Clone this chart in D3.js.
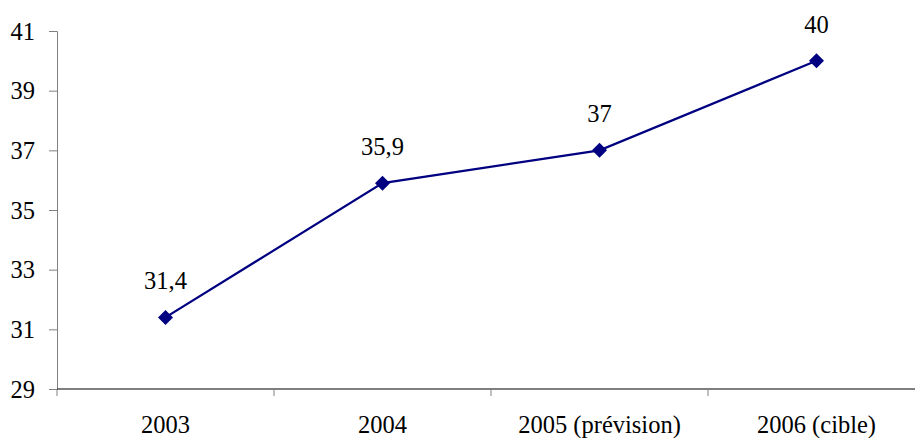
<!DOCTYPE html>
<html><head><meta charset="utf-8">
<script src="https://cdn.jsdelivr.net/npm/d3@7"></script>
<style>body{margin:0;background:#fff}svg{display:block}</style>
</head><body><svg id="c" width="915" height="438"></svg>
<script>
const categories = ["2003", "2004", "2005 (prévision)", "2006 (cible)"];
const values = [31.4, 35.9, 37, 40];
const valueLabels = ["31,4", "35,9", "37", "40"];
const yTicks = [29, 31, 33, 35, 37, 39, 41];

(function () {
const FONT = "Liberation Serif";
const FS = 24.5;
const svg = d3.select("#c");
const mLeft = 57, mRight = 925, mTop = 31, mBottom = 389;
const x = d3.scaleBand().domain(categories).range([mLeft, mRight]);
const y = d3.scaleLinear().domain([29, 41]).range([mBottom, mTop]);

// y axis
const ya = svg.append("g").attr("transform", `translate(${mLeft},0)`)
  .call(d3.axisLeft(y).tickValues(yTicks).tickSize(8).tickPadding(14).tickFormat(d3.format("d")));
ya.attr("font-family", FONT).attr("font-size", FS);
ya.select(".domain").attr("stroke", "#808080").attr("stroke-width", 1);
ya.selectAll(".tick line").attr("stroke", "#808080");
ya.selectAll("text").attr("fill", "#000").attr("font-family", FONT).attr("font-size", FS).attr("dy", "0.33em");

// x axis
const xa = svg.append("g").attr("transform", `translate(0,${mBottom})`);
xa.append("line").attr("x1", mLeft).attr("x2", 915).attr("stroke", "#000").attr("stroke-width", 1.2);
const bounds = categories.map(c => x(c)).concat([x(categories[3]) + x.bandwidth()]);
xa.selectAll(".tk").data(bounds).join("line").attr("class", "tk")
  .attr("x1", d => d).attr("x2", d => d).attr("y1", 0).attr("y2", 7).attr("stroke", "#808080");
xa.selectAll(".lb").data(categories).join("text").attr("class", "lb")
  .attr("x", d => x(d) + x.bandwidth() / 2).attr("y", 44).attr("text-anchor", "middle")
  .attr("font-family", FONT).attr("font-size", FS).attr("fill", "#000").text(d => d);

// line
const pts = categories.map((c, i) => [x(c) + x.bandwidth() / 2, y(values[i])]);
svg.append("path").datum(pts).attr("d", d3.line()).attr("fill", "none")
  .attr("stroke", "#000080").attr("stroke-width", 2.2);
svg.selectAll(".mk").data(pts).join("path").attr("class", "mk")
  .attr("transform", d => `translate(${d[0]},${d[1]})`)
  .attr("d", "M0,-7.5L7.5,0L0,7.5L-7.5,0Z").attr("fill", "#000080");
svg.selectAll(".vl").data(pts).join("text").attr("class", "vl")
  .attr("x", d => d[0]).attr("y", d => d[1] - 28).attr("text-anchor", "middle")
  .attr("font-family", FONT).attr("font-size", FS).attr("fill", "#000")
  .text((d, i) => valueLabels[i]);
})();
</script></body></html>
